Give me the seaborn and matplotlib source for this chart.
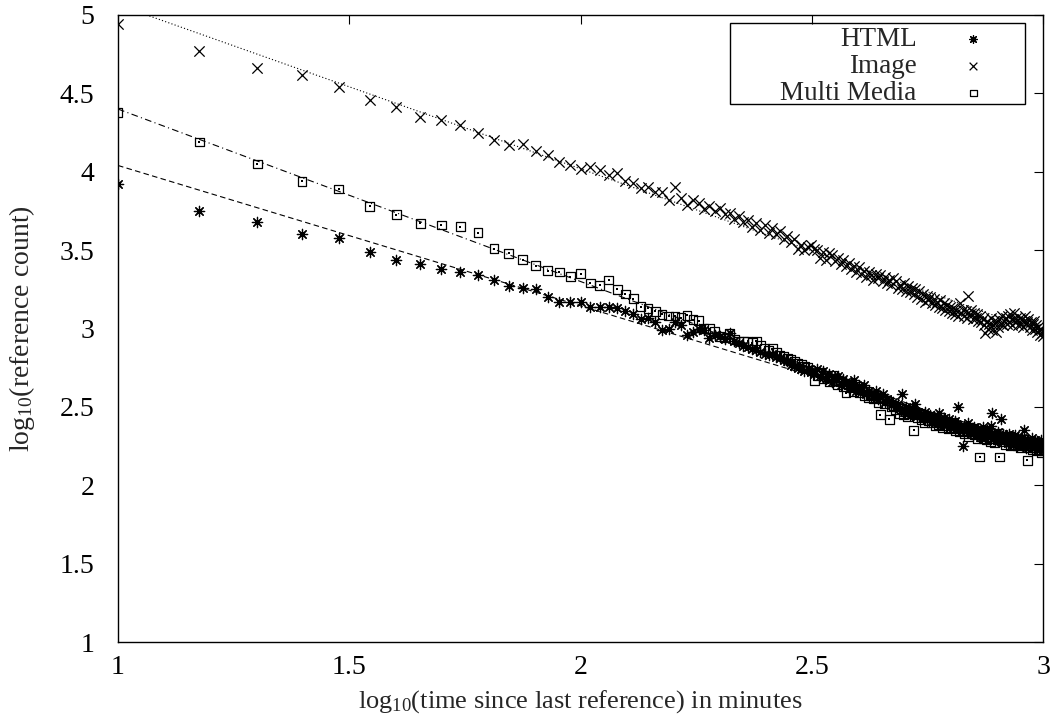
import numpy as np
import pandas as pd
import matplotlib
matplotlib.use("Agg")
import matplotlib.pyplot as plt
from matplotlib.patches import Rectangle
import seaborn as sns

# ---------------- data ----------------
minutes = np.arange(10, 1001, 5)          # time since last reference (grid of the x axis)

html = [
    3.92, 3.75, 3.68, 3.60, 3.58, 3.49, 3.44, 3.41, 3.38, 3.36,
    3.34, 3.31, 3.27, 3.26, 3.25, 3.20, 3.17, 3.17, 3.17, 3.14,
    3.14, 3.14, 3.13, 3.11, 3.09, 3.06, 3.065, 3.04, 2.99, 3.00,
    3.04, 3.02, 2.96, 2.98, 3.00,
    2.99, 2.94, 2.96, 2.95, 2.93, 2.97, 2.92, 2.91, 2.89, 2.88,
    2.87, 2.86, 2.85, 2.84, 2.83, 2.84, 2.82, 2.81, 2.80, 2.79,
    2.77, 2.76, 2.75, 2.74, 2.73, 2.74, 2.72, 2.71,
    2.74, 2.70, 2.73, 2.68, 2.71, 2.66, 2.69, 2.70, 2.64, 2.68,
    2.66, 2.62, 2.65, 2.67, 2.60, 2.63, 2.61, 2.64, 2.58, 2.60,
    2.59, 2.57, 2.60, 2.55, 2.56, 2.58, 2.53, 2.55, 2.54, 2.51,
    2.53, 2.50, 2.52, 2.49, 2.58, 2.47, 2.50, 2.48, 2.45, 2.49,
    2.47, 2.52, 2.44, 2.46, 2.45, 2.43, 2.47, 2.42, 2.44, 2.45,
    2.41, 2.44, 2.43, 2.40, 2.46, 2.42, 2.39, 2.43, 2.41, 2.40,
    2.42, 2.38, 2.40, 2.37, 2.41, 2.39, 2.50, 2.36, 2.38, 2.25,
    2.38, 2.35, 2.37, 2.40, 2.34, 2.36, 2.33, 2.37, 2.35, 2.32,
    2.36, 2.31, 2.34, 2.37, 2.33, 2.30, 2.35, 2.32, 2.34, 2.38,
    2.46, 2.30, 2.33, 2.31, 2.29, 2.34, 2.32, 2.42, 2.30, 2.33,
    2.28, 2.32, 2.30, 2.27, 2.33, 2.29, 2.31, 2.26, 2.30, 2.32,
    2.28, 2.25, 2.31, 2.27, 2.29, 2.30, 2.26, 2.35, 2.28, 2.24,
    2.29, 2.26, 2.28, 2.25, 2.30, 2.27, 2.24, 2.29, 2.26, 2.28,
    2.25, 2.27, 2.23, 2.29, 2.26, 2.24,
]

image = [
    4.94, 4.77, 4.66, 4.62, 4.54, 4.46, 4.415, 4.35, 4.33, 4.30,
    4.25, 4.20, 4.17, 4.18, 4.13, 4.11, 4.065, 4.04, 4.02, 4.03,
    4.01, 3.98, 3.99, 3.94, 3.93, 3.895, 3.90, 3.87, 3.87, 3.82,
    3.90, 3.83, 3.79, 3.82,
    3.80, 3.76, 3.78, 3.75, 3.77, 3.73, 3.74, 3.70, 3.72, 3.68,
    3.69, 3.65, 3.67, 3.63, 3.66, 3.61, 3.64, 3.60, 3.62, 3.57,
    3.59, 3.55, 3.57, 3.51, 3.53, 3.50, 3.52, 3.53, 3.51, 3.50,
    3.45, 3.49, 3.44, 3.48, 3.47, 3.43, 3.45, 3.41, 3.44, 3.40,
    3.42, 3.38, 3.40, 3.36, 3.39, 3.35, 3.37, 3.33, 3.36, 3.34,
    3.31, 3.35, 3.32, 3.34, 3.30, 3.33, 3.29, 3.31, 3.28, 3.32,
    3.30, 3.26, 3.28, 3.25, 3.29, 3.24, 3.27, 3.23, 3.26, 3.22,
    3.25, 3.20, 3.24, 3.19, 3.22, 3.17, 3.21, 3.18, 3.20, 3.16,
    3.19, 3.15, 3.17, 3.14, 3.18, 3.13, 3.16, 3.12, 3.15, 3.11,
    3.14, 3.10, 3.13, 3.09, 3.12, 3.08, 3.16, 3.10, 3.12, 3.08,
    3.11, 3.07, 3.21, 3.09, 3.12, 3.06, 3.10, 3.07, 3.09, 3.05,
    3.08, 3.04, 3.06, 3.02, 2.97, 3.05, 3.00, 3.03, 3.07, 2.99,
    3.02, 3.05, 2.98, 3.04, 3.01, 3.06, 3.03, 3.08, 3.02, 3.05,
    3.07, 3.03, 3.08, 3.04, 3.09, 3.02, 3.06, 3.10, 3.04, 3.07,
    3.05, 3.02, 3.07, 3.03, 3.06, 3.01, 3.05, 3.08, 3.03, 3.04,
    3.06, 3.01, 3.04, 2.99, 3.03, 3.05, 3.00, 3.02, 2.98, 3.01,
    2.99, 2.96, 3.00, 2.97, 2.95,
]

multimedia = [
    4.38, 4.19, 4.05, 3.94, 3.89, 3.78, 3.725, 3.67, 3.66, 3.65,
    3.61, 3.51, 3.48, 3.44, 3.40, 3.37, 3.36, 3.33, 3.35, 3.29,
    3.275, 3.31, 3.25, 3.22, 3.19, 3.14, 3.13, 3.11, 3.09, 3.08,
    3.08, 3.07, 3.085, 3.055, 3.05,
    3.00, 3.00, 2.98, 2.95, 2.94, 2.97, 2.93, 2.92, 2.915, 2.92,
    2.91, 2.92, 2.89, 2.87, 2.86, 2.87, 2.85, 2.83, 2.82, 2.81,
    2.80, 2.79, 2.78, 2.77, 2.76, 2.75, 2.73, 2.67,
    2.70, 2.72, 2.68, 2.69, 2.66, 2.70, 2.67, 2.64, 2.66, 2.63,
    2.59, 2.64, 2.62, 2.60, 2.63, 2.59, 2.61, 2.57, 2.60, 2.56,
    2.57, 2.55, 2.56, 2.53, 2.45, 2.55, 2.52, 2.54, 2.42, 2.50,
    2.51, 2.48, 2.50, 2.46, 2.49, 2.45, 2.47, 2.44, 2.46, 2.48,
    2.35, 2.45, 2.43, 2.46, 2.42, 2.44, 2.40, 2.43, 2.41, 2.44,
    2.40, 2.42, 2.38, 2.41, 2.39, 2.43, 2.37, 2.40, 2.38, 2.41,
    2.36, 2.39, 2.37, 2.40, 2.35, 2.38, 2.36, 2.34, 2.37, 2.35,
    2.33, 2.36, 2.34, 2.31, 2.35, 2.33, 2.36, 2.32, 2.34, 2.30,
    2.33, 2.18, 2.31, 2.34, 2.30, 2.32, 2.29, 2.33, 2.31, 2.28,
    2.30, 2.32, 2.27, 2.31, 2.29, 2.33, 2.18, 2.30, 2.28, 2.31,
    2.29, 2.26, 2.30, 2.28, 2.31, 2.25, 2.29, 2.27, 2.30, 2.26,
    2.28, 2.25, 2.29, 2.27, 2.24, 2.28, 2.26, 2.29, 2.25, 2.27,
    2.16, 2.27, 2.24, 2.28, 2.25, 2.23, 2.27, 2.24, 2.26, 2.22,
    2.25, 2.23, 2.26, 2.21, 2.24, 2.22,
]

series_names = ["HTML", "Image", "Multi Media"]
fit_intercept = [4.04, 5.065, 4.40]     # fitted log10(count) at x = 1
fit_slope = [-0.895, -1.046, -1.10]

assert len(html) == len(image) == len(multimedia) == len(minutes)

x = np.log10(minutes)
points = pd.DataFrame({
    "x": np.concatenate([x, x, x]),
    "y": np.concatenate([html, image, multimedia]),
    "series": np.repeat(series_names, len(x)),
})
fits = pd.DataFrame({
    "x": np.concatenate([x, x, x]),
    "y": np.concatenate([b + m * (x - 1) for b, m in zip(fit_intercept, fit_slope)]),
    "series": np.repeat(series_names, len(x)),
})

# ---------------- style ----------------
sns.set_style("white")
plt.rcParams["font.family"] = ["Liberation Serif", "DejaVu Serif"]
plt.rcParams["mathtext.fontset"] = "custom"
plt.rcParams["mathtext.rm"] = "Liberation Serif"
plt.rcParams["mathtext.it"] = "Liberation Serif:italic"
plt.rcParams["mathtext.bf"] = "Liberation Serif:bold"

fig = plt.figure(figsize=(10.53, 7.28), dpi=100)
ax = fig.add_axes([118 / 1053, 1 - 642 / 728, 925 / 1053, 627 / 728])

FS = 19
ink = "black"

# fitted lines
line_styles = {"HTML": (0, (5, 3)), "Image": (0, (1, 2)), "Multi Media": (0, (6, 3, 1, 3))}
for name in series_names:
    d = fits[fits.series == name]
    sns.lineplot(data=d, x="x", y="y", ax=ax, color=ink, lw=0.8,
                 linestyle=line_styles[name], legend=False)

# points
d = points[points.series == "HTML"]
sns.scatterplot(data=d, x="x", y="y", ax=ax, marker=(8, 2, 0), s=55,
                color=ink, linewidth=0.9, label="HTML", zorder=3)
d = points[points.series == "Image"]
sns.scatterplot(data=d, x="x", y="y", ax=ax, marker="x", s=55,
                color=ink, linewidth=0.9, label="Image", zorder=3)
d = points[points.series == "Multi Media"]
sns.scatterplot(data=d, x="x", y="y", ax=ax, marker="s", s=40,
                facecolor="none", edgecolor=ink, linewidth=0.9,
                label="Multi Media", zorder=3)
sns.scatterplot(data=d, x="x", y="y", ax=ax, marker="s", s=1.5,
                color=ink, linewidth=0, label="_nolegend_", zorder=3)

# axes
ax.set_xlim(1, 3)
ax.set_ylim(1, 5)
ax.set_xticks([1, 1.5, 2, 2.5, 3])
ax.set_xticklabels(["1", "1.5", "2", "2.5", "3"])
ax.set_yticks([1, 1.5, 2, 2.5, 3, 3.5, 4, 4.5, 5])
ax.set_yticklabels(["1", "1.5", "2", "2.5", "3", "3.5", "4", "4.5", "5"])
ax.tick_params(direction="in", length=6.5, width=0.8, top=True, right=True,
               labelsize=FS + 1, colors=ink)
ax.tick_params(axis="y", pad=17)
ax.tick_params(axis="x", pad=9)
for sp in ax.spines.values():
    sp.set_visible(True)
    sp.set_color(ink)
    sp.set_linewidth(1.0)

ax.set_xlabel(r"log$_{10}$(time since last reference) in minutes", fontsize=FS, labelpad=6)
ax.set_ylabel(r"log$_{10}$(reference count)", fontsize=FS + 1, labelpad=16)

# legend (gnuplot style: right-aligned text, sample to the right)
leg = ax.legend(loc="upper right", bbox_to_anchor=(0.957, 1.003), frameon=False,
                markerfirst=False, fontsize=FS + 0.5, handlelength=1.2, handletextpad=1.5,
                labelspacing=0.08, borderpad=0.0, markerscale=0.75)
ax.add_patch(Rectangle((0.6616, 0.858), 0.981 - 0.6616, 0.987 - 0.858,
                       transform=ax.transAxes, fill=False, edgecolor=ink,
                       linewidth=1.0, zorder=5))

fig.savefig("out.png", dpi=100)
